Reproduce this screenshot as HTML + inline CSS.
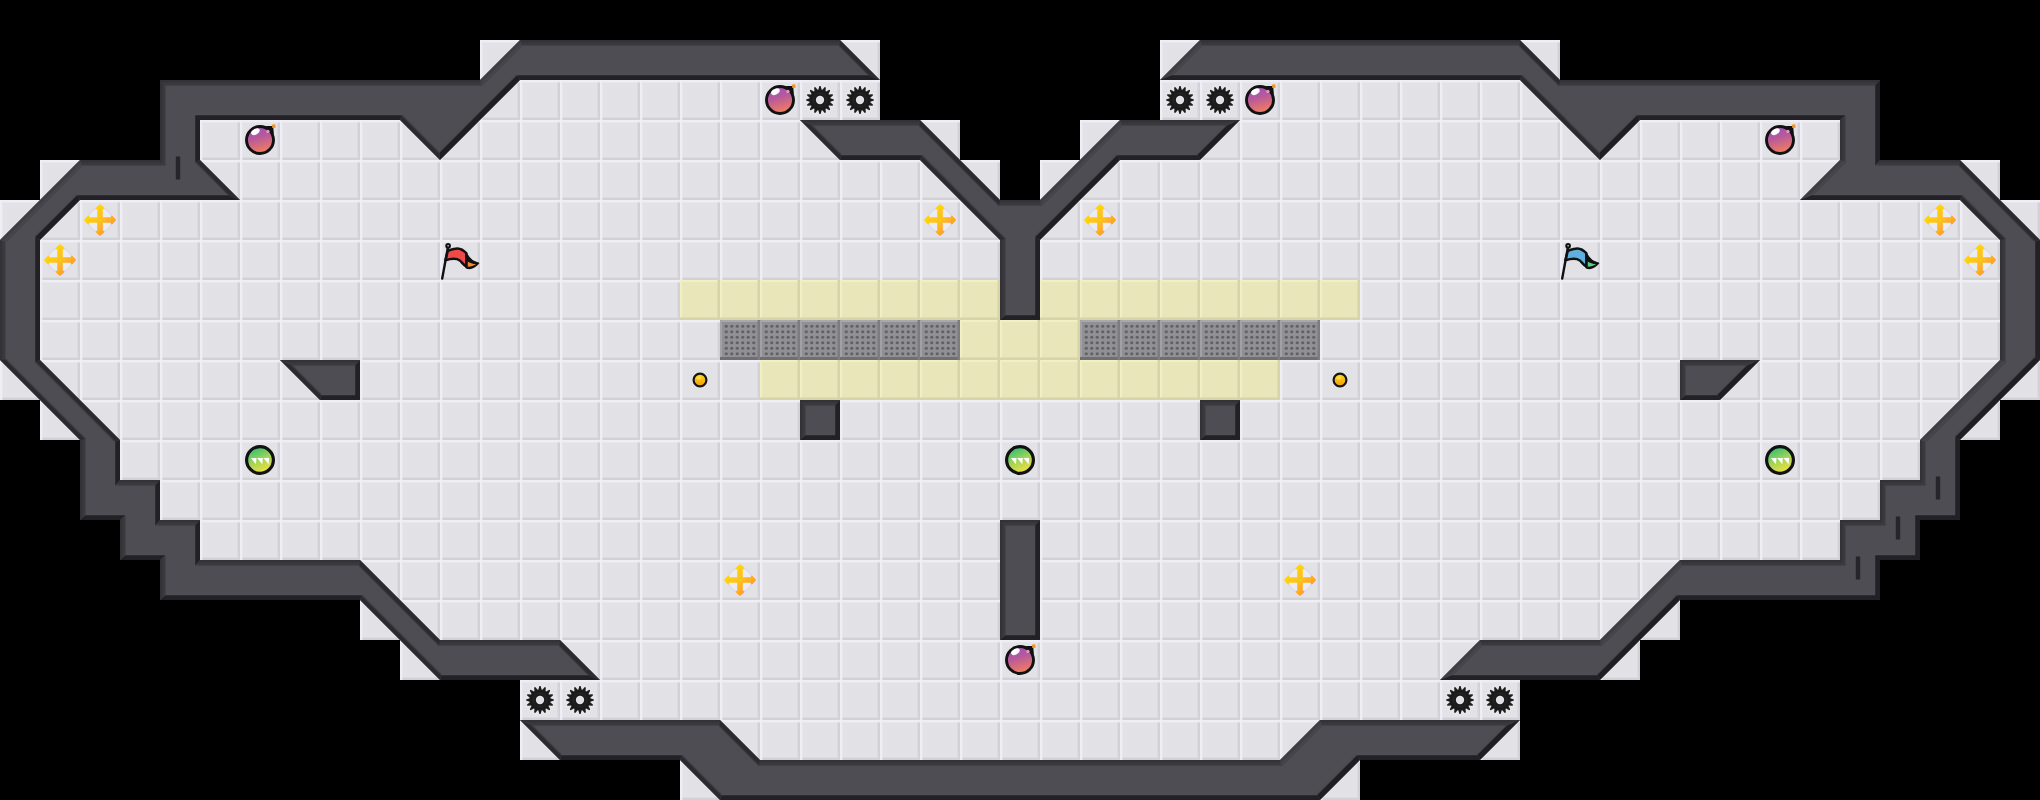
<!DOCTYPE html>
<html><head><meta charset="utf-8"><title>Map</title>
<style>html,body{margin:0;padding:0;background:#000;overflow:hidden}svg{display:block}</style></head>
<body>
<svg width="2040" height="800" viewBox="0 0 2040 800">
<defs>
<pattern id="pf" width="40" height="40" patternUnits="userSpaceOnUse">
<rect width="40" height="40" fill="#e2e1e6"/>
<rect x="2" y="2" width="35" height="35" fill="#e3e2e7"/>
<rect x="7.5" y="7.5" width="25.5" height="25.5" fill="#e2e1e6"/>
<rect x="0" y="37" width="40" height="3" fill="#dcdbe1"/><rect x="37" y="0" width="3" height="40" fill="#dcdbe1"/>
<rect x="0" y="38" width="40" height="2" fill="#d2d1d8"/><rect x="38" y="0" width="2" height="40" fill="#d2d1d8"/>
<rect x="0" y="0" width="40" height="2.4" fill="#efeef4"/><rect x="0" y="0" width="2.4" height="40" fill="#efeef4"/>
</pattern>
<pattern id="py" width="40" height="40" patternUnits="userSpaceOnUse">
<rect width="40" height="40" fill="#e9e7b9"/>
<rect x="0" y="0" width="40" height="2" fill="#f1efc6"/><rect x="0" y="0" width="2" height="40" fill="#f1efc6"/>
<rect x="0" y="37.5" width="40" height="2.5" fill="#d6d4a8"/><rect x="37.5" y="0" width="2.5" height="40" fill="#d6d4a8"/>
</pattern>
<pattern id="pg" width="40" height="40" patternUnits="userSpaceOnUse">
<rect width="40" height="40" fill="#919195"/>
<rect x="0" y="0" width="40" height="2" fill="#a9a9ad"/><rect x="0" y="0" width="2" height="40" fill="#a2a2a6"/>
<rect x="0" y="37" width="40" height="3" fill="#6f6f73"/><rect x="37.5" y="0" width="2.5" height="40" fill="#7d7d81"/>
<g fill="#616165"><circle cx="6.25" cy="6.25" r="1.6"/><circle cx="6.25" cy="11.75" r="1.6"/><circle cx="6.25" cy="17.25" r="1.6"/><circle cx="6.25" cy="22.75" r="1.6"/><circle cx="6.25" cy="28.25" r="1.6"/><circle cx="6.25" cy="33.75" r="1.6"/><circle cx="11.75" cy="6.25" r="1.6"/><circle cx="11.75" cy="11.75" r="1.6"/><circle cx="11.75" cy="17.25" r="1.6"/><circle cx="11.75" cy="22.75" r="1.6"/><circle cx="11.75" cy="28.25" r="1.6"/><circle cx="11.75" cy="33.75" r="1.6"/><circle cx="17.25" cy="6.25" r="1.6"/><circle cx="17.25" cy="11.75" r="1.6"/><circle cx="17.25" cy="17.25" r="1.6"/><circle cx="17.25" cy="22.75" r="1.6"/><circle cx="17.25" cy="28.25" r="1.6"/><circle cx="17.25" cy="33.75" r="1.6"/><circle cx="22.75" cy="6.25" r="1.6"/><circle cx="22.75" cy="11.75" r="1.6"/><circle cx="22.75" cy="17.25" r="1.6"/><circle cx="22.75" cy="22.75" r="1.6"/><circle cx="22.75" cy="28.25" r="1.6"/><circle cx="22.75" cy="33.75" r="1.6"/><circle cx="28.25" cy="6.25" r="1.6"/><circle cx="28.25" cy="11.75" r="1.6"/><circle cx="28.25" cy="17.25" r="1.6"/><circle cx="28.25" cy="22.75" r="1.6"/><circle cx="28.25" cy="28.25" r="1.6"/><circle cx="28.25" cy="33.75" r="1.6"/><circle cx="33.75" cy="6.25" r="1.6"/><circle cx="33.75" cy="11.75" r="1.6"/><circle cx="33.75" cy="17.25" r="1.6"/><circle cx="33.75" cy="22.75" r="1.6"/><circle cx="33.75" cy="28.25" r="1.6"/><circle cx="33.75" cy="33.75" r="1.6"/></g>
</pattern>
<clipPath id="cw"><path d="M520 40 520 80 480 80ZM520 40 560 40 560 80 520 80ZM560 40 600 40 600 80 560 80ZM600 40 640 40 640 80 600 80ZM640 40 680 40 680 80 640 80ZM680 40 720 40 720 80 680 80ZM720 40 760 40 760 80 720 80ZM760 40 800 40 800 80 760 80ZM800 40 840 40 840 80 800 80ZM840 40 880 80 840 80ZM1200 40 1200 80 1160 80ZM1200 40 1240 40 1240 80 1200 80ZM1240 40 1280 40 1280 80 1240 80ZM1280 40 1320 40 1320 80 1280 80ZM1320 40 1360 40 1360 80 1320 80ZM1360 40 1400 40 1400 80 1360 80ZM1400 40 1440 40 1440 80 1400 80ZM1440 40 1480 40 1480 80 1440 80ZM1480 40 1520 40 1520 80 1480 80ZM1520 40 1560 80 1520 80ZM160 80 200 80 200 120 160 120ZM200 80 240 80 240 120 200 120ZM240 80 280 80 280 120 240 120ZM280 80 320 80 320 120 280 120ZM320 80 360 80 360 120 320 120ZM360 80 400 80 400 120 360 120ZM400 80 440 80 440 120 400 120ZM440 80 480 80 480 120 440 120ZM480 80 520 80 480 120ZM1520 80 1560 80 1560 120ZM1560 80 1600 80 1600 120 1560 120ZM1600 80 1640 80 1640 120 1600 120ZM1640 80 1680 80 1680 120 1640 120ZM1680 80 1720 80 1720 120 1680 120ZM1720 80 1760 80 1760 120 1720 120ZM1760 80 1800 80 1800 120 1760 120ZM1800 80 1840 80 1840 120 1800 120ZM1840 80 1880 80 1880 120 1840 120ZM160 120 200 120 200 160 160 160ZM400 120 440 120 440 160ZM440 120 480 120 440 160ZM800 120 840 120 840 160ZM840 120 880 120 880 160 840 160ZM880 120 920 120 920 160 880 160ZM920 120 960 160 920 160ZM1120 120 1120 160 1080 160ZM1120 120 1160 120 1160 160 1120 160ZM1160 120 1200 120 1200 160 1160 160ZM1200 120 1240 120 1200 160ZM1560 120 1600 120 1600 160ZM1600 120 1640 120 1600 160ZM1840 120 1880 120 1880 160 1840 160ZM80 160 80 200 40 200ZM80 160 120 160 120 200 80 200ZM120 160 160 160 160 200 120 200ZM160 160 200 160 200 200 160 200ZM200 160 240 200 200 200ZM920 160 960 160 960 200ZM960 160 1000 200 960 200ZM1080 160 1080 200 1040 200ZM1080 160 1120 160 1080 200ZM1840 160 1840 200 1800 200ZM1840 160 1880 160 1880 200 1840 200ZM1880 160 1920 160 1920 200 1880 200ZM1920 160 1960 160 1960 200 1920 200ZM1960 160 2000 200 1960 200ZM40 200 40 240 0 240ZM40 200 80 200 40 240ZM960 200 1000 200 1000 240ZM1000 200 1040 200 1040 240 1000 240ZM1040 200 1080 200 1040 240ZM1960 200 2000 200 2000 240ZM2000 200 2040 240 2000 240ZM0 240 40 240 40 280 0 280ZM1000 240 1040 240 1040 280 1000 280ZM2000 240 2040 240 2040 280 2000 280ZM0 280 40 280 40 320 0 320ZM1000 280 1040 280 1040 320 1000 320ZM2000 280 2040 280 2040 320 2000 320ZM0 320 40 320 40 360 0 360ZM2000 320 2040 320 2040 360 2000 360ZM0 360 40 360 40 400ZM40 360 80 400 40 400ZM280 360 320 360 320 400ZM320 360 360 360 360 400 320 400ZM1680 360 1720 360 1720 400 1680 400ZM1720 360 1760 360 1720 400ZM2000 360 2000 400 1960 400ZM2000 360 2040 360 2000 400ZM40 400 80 400 80 440ZM80 400 120 440 80 440ZM800 400 840 400 840 440 800 440ZM1200 400 1240 400 1240 440 1200 440ZM1960 400 1960 440 1920 440ZM1960 400 2000 400 1960 440ZM80 440 120 440 120 480 80 480ZM1920 440 1960 440 1960 480 1920 480ZM80 480 120 480 120 520 80 520ZM120 480 160 480 160 520 120 520ZM1880 480 1920 480 1920 520 1880 520ZM1920 480 1960 480 1960 520 1920 520ZM120 520 160 520 160 560 120 560ZM160 520 200 520 200 560 160 560ZM1000 520 1040 520 1040 560 1000 560ZM1840 520 1880 520 1880 560 1840 560ZM1880 520 1920 520 1920 560 1880 560ZM160 560 200 560 200 600 160 600ZM200 560 240 560 240 600 200 600ZM240 560 280 560 280 600 240 600ZM280 560 320 560 320 600 280 600ZM320 560 360 560 360 600 320 600ZM360 560 400 600 360 600ZM1000 560 1040 560 1040 600 1000 600ZM1680 560 1680 600 1640 600ZM1680 560 1720 560 1720 600 1680 600ZM1720 560 1760 560 1760 600 1720 600ZM1760 560 1800 560 1800 600 1760 600ZM1800 560 1840 560 1840 600 1800 600ZM1840 560 1880 560 1880 600 1840 600ZM360 600 400 600 400 640ZM400 600 440 640 400 640ZM1000 600 1040 600 1040 640 1000 640ZM1640 600 1640 640 1600 640ZM1640 600 1680 600 1640 640ZM400 640 440 640 440 680ZM440 640 480 640 480 680 440 680ZM480 640 520 640 520 680 480 680ZM520 640 560 640 560 680 520 680ZM560 640 600 680 560 680ZM1480 640 1480 680 1440 680ZM1480 640 1520 640 1520 680 1480 680ZM1520 640 1560 640 1560 680 1520 680ZM1560 640 1600 640 1600 680 1560 680ZM1600 640 1640 640 1600 680ZM520 720 560 720 560 760ZM560 720 600 720 600 760 560 760ZM600 720 640 720 640 760 600 760ZM640 720 680 720 680 760 640 760ZM680 720 720 720 720 760 680 760ZM720 720 760 760 720 760ZM1320 720 1320 760 1280 760ZM1320 720 1360 720 1360 760 1320 760ZM1360 720 1400 720 1400 760 1360 760ZM1400 720 1440 720 1440 760 1400 760ZM1440 720 1480 720 1480 760 1440 760ZM1480 720 1520 720 1480 760ZM680 760 720 760 720 800ZM720 760 760 760 760 800 720 800ZM760 760 800 760 800 800 760 800ZM800 760 840 760 840 800 800 800ZM840 760 880 760 880 800 840 800ZM880 760 920 760 920 800 880 800ZM920 760 960 760 960 800 920 800ZM960 760 1000 760 1000 800 960 800ZM1000 760 1040 760 1040 800 1000 800ZM1040 760 1080 760 1080 800 1040 800ZM1080 760 1120 760 1120 800 1080 800ZM1120 760 1160 760 1160 800 1120 800ZM1160 760 1200 760 1200 800 1160 800ZM1200 760 1240 760 1240 800 1200 800ZM1240 760 1280 760 1280 800 1240 800ZM1280 760 1320 760 1320 800 1280 800ZM1320 760 1360 760 1320 800Z"/></clipPath>
<linearGradient id="gb" x1="0" y1="0" x2="0.3" y2="1"><stop offset="0" stop-color="#9a4fc0"/><stop offset="0.5" stop-color="#b85a9a"/><stop offset="1" stop-color="#ee7a62"/></linearGradient>
<linearGradient id="gg" x1="0.3" y1="0.05" x2="0.7" y2="0.95"><stop offset="0" stop-color="#34bf74"/><stop offset="0.5" stop-color="#a2d456"/><stop offset="1" stop-color="#f4e13c"/></linearGradient>
<linearGradient id="gp" x1="0.1" y1="0.1" x2="0.9" y2="0.9"><stop offset="0" stop-color="#ffe000"/><stop offset="0.5" stop-color="#ffc21a"/><stop offset="1" stop-color="#ff8f2a"/></linearGradient>
<linearGradient id="gc" x1="0" y1="0" x2="0" y2="1"><stop offset="0" stop-color="#ffdc10"/><stop offset="1" stop-color="#f59a10"/></linearGradient>
<g id="bomb"><path d="M5.5 -13.9L13.2 -13.9L13.9 -5.5Z" fill="#111"/><circle cx="0" cy="0" r="13.5" fill="url(#gb)" stroke="#111" stroke-width="2.9"/><ellipse cx="-4.6" cy="-8.3" rx="4.6" ry="2.8" fill="#fff" transform="rotate(-28 -4.6 -8.3)"/><circle cx="8" cy="-8.6" r="1.7" fill="#f7a8cc" opacity=".85"/><rect x="12.2" y="-15.6" width="3.2" height="3.6" fill="#f7941d"/></g>
<g id="gear"><circle r="16" fill="#e9e8ed" opacity=".6"/><path d="M-1.73 -10.36L-0.58 -13.89L0.58 -13.89L1.73 -10.36L2.36 -10.23L4.78 -13.05L5.85 -12.61L5.56 -8.90L6.10 -8.55L9.41 -10.23L10.23 -9.41L8.55 -6.10L8.90 -5.56L12.61 -5.85L13.05 -4.78L10.23 -2.36L10.36 -1.73L13.89 -0.58L13.89 0.58L10.36 1.73L10.23 2.36L13.05 4.78L12.61 5.85L8.90 5.56L8.55 6.10L10.23 9.41L9.41 10.23L6.10 8.55L5.56 8.90L5.85 12.61L4.78 13.05L2.36 10.23L1.73 10.36L0.58 13.89L-0.58 13.89L-1.73 10.36L-2.36 10.23L-4.78 13.05L-5.85 12.61L-5.56 8.90L-6.10 8.55L-9.41 10.23L-10.23 9.41L-8.55 6.10L-8.90 5.56L-12.61 5.85L-13.05 4.78L-10.23 2.36L-10.36 1.73L-13.89 0.58L-13.89 -0.58L-10.36 -1.73L-10.23 -2.36L-13.05 -4.78L-12.61 -5.85L-8.90 -5.56L-8.55 -6.10L-10.23 -9.41L-9.41 -10.23L-6.10 -8.55L-5.56 -8.90L-5.85 -12.61L-4.78 -13.05L-2.36 -10.23Z" fill="#1b1b1b"/><circle r="6.9" fill="none" stroke="#2a2a2a" stroke-width=".8"/><circle r="4.15" fill="#e2e1e6"/></g>
<g id="plus"><circle r="12" fill="#ecebf1" stroke="#d9d9e6" stroke-width="1.3"/><path d="M-1.8 -1.8V-11.8H-3.3L0 -14.8L3.3 -11.8H1.8V-1.8H11.8V-3.3L14.8 0L11.8 3.3V1.8H1.8V11.8H3.3L0 14.8L-3.3 11.8H-1.8V1.8H-11.8V3.3L-14.8 0L-11.8 -3.3V-1.8Z" fill="url(#gp)" stroke="url(#gp)" stroke-width="2" stroke-linejoin="round"/><path d="M0 -11V-4M0 4V11M-11 0H-4M4 0H11" stroke="#ffb347" stroke-width=".9" opacity=".8"/><circle r="2.3" fill="#efd400" stroke="#ffb638" stroke-width=".9"/></g>
<g id="green"><circle r="13.4" fill="url(#gg)" stroke="#111" stroke-width="3.2"/><path d="M-9.2 -2H-3.5L-4 4.2ZM-2.9 -2H2.8L2.3 4.2ZM3.4 -2H9.1L8.6 4.2Z" fill="#fff"/></g>
<g id="coin"><circle r="6.4" fill="url(#gc)" stroke="#151515" stroke-width="2.2"/><ellipse cx="-1" cy="-2" rx="2.6" ry="1.8" fill="#ffe860" opacity=".7"/></g>
<g id="flagr"><path d="M6.3 -6.9C8 -3 12 1.8 18.4 3.3C14.5 7.6 10 9.2 6.3 7.8Z" fill="#111" stroke="#111" stroke-width="1.6" stroke-linejoin="round"/><path d="M7.6 1.5L7.4 6.6C10 7 13 6 16.2 4.2C12.5 4 10 3 7.6 1.5Z" fill="#f58a30"/><path d="M-12.2 -9.2C-8 -10.6 -5 -11.6 -2.5 -11.5C1.5 -11.3 4 -9.3 6.3 -6.9L6.3 6.5C3.5 5.2 1.8 2.2 -0.3 0.4C-3.5 -2 -9 -1.5 -14.6 0.2Z" fill="#f04a48" stroke="#111" stroke-width="2.5" stroke-linejoin="round"/><path d="M-11.9 -13.5L-17.8 18.5" stroke="#111" stroke-width="2.4" stroke-linecap="round"/><circle cx="-11.9" cy="-14.2" r="1.8" fill="#e2e1e6" stroke="#111" stroke-width="2.1"/></g>
<g id="flagb"><path d="M6.3 -6.9C8 -3 12 1.8 18.4 3.3C14.5 7.6 10 9.2 6.3 7.8Z" fill="#111" stroke="#111" stroke-width="1.6" stroke-linejoin="round"/><path d="M7.6 1.5L7.4 6.6C10 7 13 6 16.2 4.2C12.5 4 10 3 7.6 1.5Z" fill="#5ccc88"/><path d="M-12.2 -9.2C-8 -10.6 -5 -11.6 -2.5 -11.5C1.5 -11.3 4 -9.3 6.3 -6.9L6.3 6.5C3.5 5.2 1.8 2.2 -0.3 0.4C-3.5 -2 -9 -1.5 -14.6 0.2Z" fill="#5fb0de" stroke="#111" stroke-width="2.5" stroke-linejoin="round"/><path d="M-11.9 -13.5L-17.8 18.5" stroke="#111" stroke-width="2.4" stroke-linecap="round"/><circle cx="-11.9" cy="-14.2" r="1.8" fill="#e2e1e6" stroke="#111" stroke-width="2.1"/></g>
</defs>
<rect width="2040" height="800" fill="#000"/>
<path d="M480 40h400v40h-400ZM1160 40h400v40h-400ZM160 80h720v40h-720ZM1160 80h720v40h-720ZM160 120h800v40h-800ZM1080 120h800v40h-800ZM40 160h960v40h-960ZM1040 160h960v40h-960ZM0 200h2040v40h-2040ZM0 240h2040v40h-2040ZM0 280h680v40h-680ZM1000 280h40v40h-40ZM1360 280h680v40h-680ZM0 320h720v40h-720ZM1320 320h720v40h-720ZM0 360h760v40h-760ZM1280 360h760v40h-760ZM40 400h1960v40h-1960ZM80 440h1880v40h-1880ZM80 480h1880v40h-1880ZM120 520h1800v40h-1800ZM160 560h1720v40h-1720ZM360 600h1320v40h-1320ZM400 640h1240v40h-1240ZM520 680h1000v40h-1000ZM520 720h1000v40h-1000ZM680 760h680v40h-680Z" fill="url(#pf)"/>
<path d="M680 280h320v40h-320ZM1040 280h320v40h-320ZM960 320h120v40h-120ZM760 360h520v40h-520Z" fill="url(#py)"/>
<path d="M720 320h240v40h-240ZM1080 320h240v40h-240Z" fill="url(#pg)"/>
<g clip-path="url(#cw)">
<rect width="2040" height="800" fill="#4e4d53"/>
<path d="M80 160L160 160L166.60 166.60L81.89 166.60ZM160 160L160 80L166.60 86.60L166.60 166.60ZM160 80L480 80L481.89 86.60L166.60 86.60ZM520 40L840 40L838.96 46.60L521.89 46.60ZM120 480L160 480L154.10 486.60L114.10 486.60ZM160 520L200 520L194.10 526.60L154.10 526.60ZM200 560L360 560L358.96 566.60L194.10 566.60ZM440 640L560 640L558.96 646.60L438.96 646.60ZM160 600L160 560L166.60 554.10L166.60 594.10ZM120 560L120 520L126.60 514.10L126.60 554.10ZM80 520L80 440L86.60 438.96L86.60 514.10ZM0 360L0 240L6.60 241.89L6.60 358.96ZM280 360L360 360L354.10 366.60L294.24 366.60ZM520 720L720 720L718.96 726.60L534.24 726.60ZM760 760L1280 760L1281.89 766.60L758.96 766.60ZM1320 720L1520 720L1504.07 726.60L1321.89 726.60ZM800 120L920 120L918.96 126.60L814.24 126.60ZM1000 200L1040 200L1041.89 206.60L998.96 206.60ZM1120 120L1240 120L1224.07 126.60L1121.89 126.60ZM1000 320L1000 240L1006.60 238.96L1006.60 314.10ZM800 400L840 400L834.10 406.60L806.60 406.60ZM800 440L800 400L806.60 406.60L806.60 434.10ZM1000 520L1040 520L1034.10 526.60L1006.60 526.60ZM1000 640L1000 520L1006.60 526.60L1006.60 634.10ZM1200 40L1520 40L1518.96 46.60L1201.89 46.60ZM1560 80L1880 80L1874.10 86.60L1558.96 86.60ZM1880 160L1960 160L1958.96 166.60L1874.10 166.60ZM1480 640L1600 640L1601.89 646.60L1481.89 646.60ZM1680 560L1840 560L1846.60 566.60L1681.89 566.60ZM1840 560L1840 520L1846.60 526.60L1846.60 566.60ZM1840 520L1880 520L1886.60 526.60L1846.60 526.60ZM1880 520L1880 480L1886.60 486.60L1886.60 526.60ZM1880 480L1920 480L1926.60 486.60L1886.60 486.60ZM1920 480L1920 440L1926.60 441.89L1926.60 486.60ZM2000 360L2000 240L2006.60 238.96L2006.60 361.89ZM1840 160L1840 120L1846.60 114.10L1846.60 161.89ZM1200 400L1240 400L1234.10 406.60L1206.60 406.60ZM1200 440L1200 400L1206.60 406.60L1206.60 434.10ZM1680 360L1760 360L1744.07 366.60L1686.60 366.60ZM1680 400L1680 360L1686.60 366.60L1686.60 394.10Z" fill="#4d4c52"/>
<path d="M80 160L160 160L165.40 165.40L81.54 165.40ZM160 160L160 80L165.40 85.40L165.40 165.40ZM160 80L480 80L481.54 85.40L165.40 85.40ZM520 40L840 40L839.15 45.40L521.54 45.40ZM120 480L160 480L155.17 485.40L115.17 485.40ZM160 520L200 520L195.17 525.40L155.17 525.40ZM200 560L360 560L359.15 565.40L195.17 565.40ZM440 640L560 640L559.15 645.40L439.15 645.40ZM160 600L160 560L165.40 555.17L165.40 595.17ZM120 560L120 520L125.40 515.17L125.40 555.17ZM80 520L80 440L85.40 439.15L85.40 515.17ZM0 360L0 240L5.40 241.54L5.40 359.15ZM280 360L360 360L355.17 365.40L291.65 365.40ZM520 720L720 720L719.15 725.40L531.65 725.40ZM760 760L1280 760L1281.54 765.40L759.15 765.40ZM1320 720L1520 720L1506.96 725.40L1321.54 725.40ZM800 120L920 120L919.15 125.40L811.65 125.40ZM1000 200L1040 200L1041.54 205.40L999.15 205.40ZM1120 120L1240 120L1226.96 125.40L1121.54 125.40ZM1000 320L1000 240L1005.40 239.15L1005.40 315.17ZM800 400L840 400L835.17 405.40L805.40 405.40ZM800 440L800 400L805.40 405.40L805.40 435.17ZM1000 520L1040 520L1035.17 525.40L1005.40 525.40ZM1000 640L1000 520L1005.40 525.40L1005.40 635.17ZM1200 40L1520 40L1519.15 45.40L1201.54 45.40ZM1560 80L1880 80L1875.17 85.40L1559.15 85.40ZM1880 160L1960 160L1959.15 165.40L1875.17 165.40ZM1480 640L1600 640L1601.54 645.40L1481.54 645.40ZM1680 560L1840 560L1845.40 565.40L1681.54 565.40ZM1840 560L1840 520L1845.40 525.40L1845.40 565.40ZM1840 520L1880 520L1885.40 525.40L1845.40 525.40ZM1880 520L1880 480L1885.40 485.40L1885.40 525.40ZM1880 480L1920 480L1925.40 485.40L1885.40 485.40ZM1920 480L1920 440L1925.40 441.54L1925.40 485.40ZM2000 360L2000 240L2005.40 239.15L2005.40 361.54ZM1840 160L1840 120L1845.40 115.17L1845.40 161.54ZM1200 400L1240 400L1235.17 405.40L1205.40 405.40ZM1200 440L1200 400L1205.40 405.40L1205.40 435.17ZM1680 360L1760 360L1746.96 365.40L1685.40 365.40ZM1680 400L1680 360L1685.40 365.40L1685.40 395.17Z" fill="#3a393e"/>
<path d="M80 160L160 160L162.20 162.20L80.63 162.20ZM160 160L160 80L162.20 82.20L162.20 162.20ZM160 80L480 80L480.63 82.20L162.20 82.20ZM520 40L840 40L839.65 42.20L520.63 42.20ZM120 480L160 480L158.03 482.20L118.03 482.20ZM160 520L200 520L198.03 522.20L158.03 522.20ZM200 560L360 560L359.65 562.20L198.03 562.20ZM440 640L560 640L559.65 642.20L439.65 642.20ZM160 600L160 560L162.20 558.03L162.20 598.03ZM120 560L120 520L122.20 518.03L122.20 558.03ZM80 520L80 440L82.20 439.65L82.20 518.03ZM0 360L0 240L2.20 240.63L2.20 359.65ZM280 360L360 360L358.03 362.20L284.75 362.20ZM520 720L720 720L719.65 722.20L524.75 722.20ZM760 760L1280 760L1280.63 762.20L759.65 762.20ZM1320 720L1520 720L1514.69 722.20L1320.63 722.20ZM800 120L920 120L919.65 122.20L804.75 122.20ZM1000 200L1040 200L1040.63 202.20L999.65 202.20ZM1120 120L1240 120L1234.69 122.20L1120.63 122.20ZM1000 320L1000 240L1002.20 239.65L1002.20 318.03ZM800 400L840 400L838.03 402.20L802.20 402.20ZM800 440L800 400L802.20 402.20L802.20 438.03ZM1000 520L1040 520L1038.03 522.20L1002.20 522.20ZM1000 640L1000 520L1002.20 522.20L1002.20 638.03ZM1200 40L1520 40L1519.65 42.20L1200.63 42.20ZM1560 80L1880 80L1878.03 82.20L1559.65 82.20ZM1880 160L1960 160L1959.65 162.20L1878.03 162.20ZM1480 640L1600 640L1600.63 642.20L1480.63 642.20ZM1680 560L1840 560L1842.20 562.20L1680.63 562.20ZM1840 560L1840 520L1842.20 522.20L1842.20 562.20ZM1840 520L1880 520L1882.20 522.20L1842.20 522.20ZM1880 520L1880 480L1882.20 482.20L1882.20 522.20ZM1880 480L1920 480L1922.20 482.20L1882.20 482.20ZM1920 480L1920 440L1922.20 440.63L1922.20 482.20ZM2000 360L2000 240L2002.20 239.65L2002.20 360.63ZM1840 160L1840 120L1842.20 118.03L1842.20 160.63ZM1200 400L1240 400L1238.03 402.20L1202.20 402.20ZM1200 440L1200 400L1202.20 402.20L1202.20 438.03ZM1680 360L1760 360L1754.69 362.20L1682.20 362.20ZM1680 400L1680 360L1682.20 362.20L1682.20 398.03Z" fill="#333237"/>
<path d="M0 240L80 160L81.89 166.60L6.60 241.89ZM480 80L520 40L521.89 46.60L481.89 86.60ZM1280 760L1320 720L1321.89 726.60L1281.89 766.60ZM1040 200L1120 120L1121.89 126.60L1041.89 206.60ZM1160 80L1200 40L1201.89 46.60L1174.39 74.10ZM1440 680L1480 640L1481.89 646.60L1454.39 674.10ZM1600 640L1680 560L1681.89 566.60L1601.89 646.60ZM1920 440L2000 360L2006.60 361.89L1926.60 441.89ZM1800 200L1840 160L1846.60 161.89L1814.39 194.10Z" fill="#45444a"/>
<path d="M0 240L80 160L80.75 162.64L2.64 240.75ZM480 80L520 40L520.75 42.64L480.75 82.64ZM1280 760L1320 720L1320.75 722.64L1280.75 762.64ZM1040 200L1120 120L1120.75 122.64L1040.75 202.64ZM1160 80L1200 40L1200.75 42.64L1165.75 77.64ZM1440 680L1480 640L1480.75 642.64L1445.75 677.64ZM1600 640L1680 560L1680.75 562.64L1600.75 642.64ZM1920 440L2000 360L2002.64 360.75L1922.64 440.75ZM1800 200L1840 160L1842.64 160.75L1805.75 197.64Z" fill="#3e3d43"/>
<path d="M840 40L880 80L866.46 74.10L838.96 46.60ZM440 160L400 120L401.74 114.10L439.15 151.51ZM200 160L240 200L226.46 194.10L194.10 161.74ZM40 360L120 440L114.10 441.74L34.10 361.74ZM360 560L440 640L438.96 646.60L358.96 566.60ZM560 640L600 680L586.46 674.10L558.96 646.60ZM440 680L360 600L361.74 594.10L441.74 674.10ZM80 440L0 360L6.60 358.96L86.60 438.96ZM320 400L280 360L294.24 366.60L321.74 394.10ZM720 720L760 760L758.96 766.60L718.96 726.60ZM720 800L680 760L681.74 754.10L721.74 794.10ZM560 760L520 720L534.24 726.60L561.74 754.10ZM920 120L1000 200L998.96 206.60L918.96 126.60ZM1000 240L920 160L921.74 154.10L1006.60 238.96ZM840 160L800 120L814.24 126.60L841.74 154.10ZM1520 40L1560 80L1558.96 86.60L1518.96 46.60ZM1960 160L2040 240L2034.10 241.74L1958.96 166.60ZM2000 240L1960 200L1961.74 194.10L2006.60 238.96ZM1600 160L1520 80L1521.74 74.10L1599.15 151.51Z" fill="#3f3e44"/>
<path d="M840 40L880 80L869.47 75.41L839.19 45.13ZM440 160L400 120L401.35 115.41L439.34 153.40ZM200 160L240 200L229.47 195.41L195.41 161.35ZM40 360L120 440L115.41 441.35L35.41 361.35ZM360 560L440 640L439.19 645.13L359.19 565.13ZM560 640L600 680L589.47 675.41L559.19 645.13ZM440 680L360 600L361.35 595.41L441.35 675.41ZM80 440L0 360L5.13 359.19L85.13 439.19ZM320 400L280 360L291.07 365.13L321.35 395.41ZM720 720L760 760L759.19 765.13L719.19 725.13ZM720 800L680 760L681.35 755.41L721.35 795.41ZM560 760L520 720L531.07 725.13L561.35 755.41ZM920 120L1000 200L999.19 205.13L919.19 125.13ZM1000 240L920 160L921.35 155.41L1005.13 239.19ZM840 160L800 120L811.07 125.13L841.35 155.41ZM1520 40L1560 80L1559.19 85.13L1519.19 45.13ZM1960 160L2040 240L2035.41 241.35L1959.19 165.13ZM2000 240L1960 200L1961.35 195.41L2005.13 239.19ZM1600 160L1520 80L1521.35 75.41L1599.34 153.40Z" fill="#2b2a2f"/>
<path d="M880 80L520 80L516.57 74.10L866.46 74.10ZM400 120L200 120L194.10 114.10L401.74 114.10ZM200 120L200 160L194.10 161.74L194.10 114.10ZM240 200L80 200L76.57 194.10L226.46 194.10ZM40 240L40 360L34.10 361.74L34.10 236.57ZM120 440L120 480L114.10 486.60L114.10 441.74ZM160 480L160 520L154.10 526.60L154.10 486.60ZM200 520L200 560L194.10 566.60L194.10 526.60ZM600 680L440 680L441.74 674.10L586.46 674.10ZM360 600L160 600L166.60 594.10L361.74 594.10ZM160 560L120 560L126.60 554.10L166.60 554.10ZM120 520L80 520L86.60 514.10L126.60 514.10ZM360 360L360 400L354.10 394.10L354.10 366.60ZM360 400L320 400L321.74 394.10L354.10 394.10ZM1480 760L1360 760L1356.57 754.10L1476.57 754.10ZM1320 800L720 800L721.74 794.10L1316.57 794.10ZM680 760L560 760L561.74 754.10L681.74 754.10ZM1200 160L1120 160L1116.57 154.10L1196.57 154.10ZM1040 240L1040 320L1034.10 314.10L1034.10 236.57ZM1040 320L1000 320L1006.60 314.10L1034.10 314.10ZM920 160L840 160L841.74 154.10L921.74 154.10ZM840 400L840 440L834.10 434.10L834.10 406.60ZM840 440L800 440L806.60 434.10L834.10 434.10ZM1040 520L1040 640L1034.10 634.10L1034.10 526.60ZM1040 640L1000 640L1006.60 634.10L1034.10 634.10ZM1880 80L1880 160L1874.10 166.60L1874.10 86.60ZM2040 240L2040 360L2034.10 356.57L2034.10 241.74ZM1960 440L1960 520L1954.10 514.10L1954.10 436.57ZM1960 520L1920 520L1914.10 514.10L1954.10 514.10ZM1920 520L1920 560L1914.10 554.10L1914.10 514.10ZM1920 560L1880 560L1874.10 554.10L1914.10 554.10ZM1880 560L1880 600L1874.10 594.10L1874.10 554.10ZM1880 600L1680 600L1676.57 594.10L1874.10 594.10ZM1600 680L1440 680L1454.39 674.10L1596.57 674.10ZM1960 200L1800 200L1814.39 194.10L1961.74 194.10ZM1840 120L1640 120L1636.57 114.10L1846.60 114.10ZM1520 80L1160 80L1174.39 74.10L1521.74 74.10ZM1240 400L1240 440L1234.10 434.10L1234.10 406.60ZM1240 440L1200 440L1206.60 434.10L1234.10 434.10ZM1720 400L1680 400L1686.60 394.10L1716.57 394.10Z" fill="#504f55"/>
<path d="M880 80L520 80L517.21 75.20L868.99 75.20ZM400 120L200 120L195.20 115.20L401.41 115.20ZM200 120L200 160L195.20 161.41L195.20 115.20ZM240 200L80 200L77.21 195.20L228.99 195.20ZM40 240L40 360L35.20 361.41L35.20 237.21ZM120 440L120 480L115.20 485.37L115.20 441.41ZM160 480L160 520L155.20 525.37L155.20 485.37ZM200 520L200 560L195.20 565.37L195.20 525.37ZM600 680L440 680L441.41 675.20L588.99 675.20ZM360 600L160 600L165.37 595.20L361.41 595.20ZM160 560L120 560L125.37 555.20L165.37 555.20ZM120 520L80 520L85.37 515.20L125.37 515.20ZM360 360L360 400L355.20 395.20L355.20 365.37ZM360 400L320 400L321.41 395.20L355.20 395.20ZM1480 760L1360 760L1357.21 755.20L1477.21 755.20ZM1320 800L720 800L721.41 795.20L1317.21 795.20ZM680 760L560 760L561.41 755.20L681.41 755.20ZM1200 160L1120 160L1117.21 155.20L1197.21 155.20ZM1040 240L1040 320L1035.20 315.20L1035.20 237.21ZM1040 320L1000 320L1005.37 315.20L1035.20 315.20ZM920 160L840 160L841.41 155.20L921.41 155.20ZM840 400L840 440L835.20 435.20L835.20 405.37ZM840 440L800 440L805.37 435.20L835.20 435.20ZM1040 520L1040 640L1035.20 635.20L1035.20 525.37ZM1040 640L1000 640L1005.37 635.20L1035.20 635.20ZM1880 80L1880 160L1875.20 165.37L1875.20 85.37ZM2040 240L2040 360L2035.20 357.21L2035.20 241.41ZM1960 440L1960 520L1955.20 515.20L1955.20 437.21ZM1960 520L1920 520L1915.20 515.20L1955.20 515.20ZM1920 520L1920 560L1915.20 555.20L1915.20 515.20ZM1920 560L1880 560L1875.20 555.20L1915.20 555.20ZM1880 560L1880 600L1875.20 595.20L1875.20 555.20ZM1880 600L1680 600L1677.21 595.20L1875.20 595.20ZM1600 680L1440 680L1451.70 675.20L1597.21 675.20ZM1960 200L1800 200L1811.70 195.20L1961.41 195.20ZM1840 120L1640 120L1637.21 115.20L1845.37 115.20ZM1520 80L1160 80L1171.70 75.20L1521.41 75.20ZM1240 400L1240 440L1235.20 435.20L1235.20 405.37ZM1240 440L1200 440L1205.37 435.20L1235.20 435.20ZM1720 400L1680 400L1685.37 395.20L1717.21 395.20Z" fill="#222126"/>
<path d="M520 80L440 160L439.15 151.51L516.57 74.10ZM80 200L40 240L34.10 236.57L76.57 194.10ZM1520 720L1480 760L1476.57 754.10L1504.07 726.60ZM1360 760L1320 800L1316.57 794.10L1356.57 754.10ZM1240 120L1200 160L1196.57 154.10L1224.07 126.60ZM1120 160L1040 240L1034.10 236.57L1116.57 154.10ZM2040 360L1960 440L1954.10 436.57L2034.10 356.57ZM1680 600L1600 680L1596.57 674.10L1676.57 594.10ZM1640 120L1600 160L1599.15 151.51L1636.57 114.10ZM1760 360L1720 400L1716.57 394.10L1744.07 366.60Z" fill="#47464c"/>
<path d="M520 80L440 160L439.31 153.06L517.19 75.17ZM80 200L40 240L35.17 237.19L77.19 195.17ZM1520 720L1480 760L1477.19 755.17L1506.96 725.40ZM1360 760L1320 800L1317.19 795.17L1357.19 755.17ZM1240 120L1200 160L1197.19 155.17L1226.96 125.40ZM1120 160L1040 240L1035.17 237.19L1117.19 155.17ZM2040 360L1960 440L1955.17 437.19L2035.17 357.19ZM1680 600L1600 680L1597.19 675.17L1677.19 595.17ZM1640 120L1600 160L1599.31 153.06L1637.19 115.17ZM1760 360L1720 400L1717.19 395.17L1746.96 365.40Z" fill="#1f1e23"/>
<path d="M178 156.5L178 179.5M1938 476.5L1938 499.5M1898 516.5L1898 539.5M1858 556.5L1858 579.5" stroke="#26252a" stroke-width="4.4" fill="none"/>
</g>
<use href="#bomb" x="260" y="140"/><use href="#bomb" x="780" y="100"/><use href="#bomb" x="1260" y="100"/><use href="#bomb" x="1780" y="140"/><use href="#bomb" x="1020" y="660"/><use href="#gear" x="820" y="100"/><use href="#gear" x="860" y="100"/><use href="#gear" x="1180" y="100"/><use href="#gear" x="1220" y="100"/><use href="#gear" x="540" y="700"/><use href="#gear" x="580" y="700"/><use href="#gear" x="1460" y="700"/><use href="#gear" x="1500" y="700"/><use href="#plus" x="100" y="220"/><use href="#plus" x="60" y="260"/><use href="#plus" x="940" y="220"/><use href="#plus" x="1100" y="220"/><use href="#plus" x="1940" y="220"/><use href="#plus" x="1980" y="260"/><use href="#plus" x="740" y="580"/><use href="#plus" x="1300" y="580"/><use href="#green" x="260" y="460"/><use href="#green" x="1020" y="460"/><use href="#green" x="1780" y="460"/><use href="#coin" x="700" y="380"/><use href="#coin" x="1340" y="380"/><use href="#flagr" x="460" y="260"/><use href="#flagb" x="1580" y="260"/>
</svg>
</body></html>
